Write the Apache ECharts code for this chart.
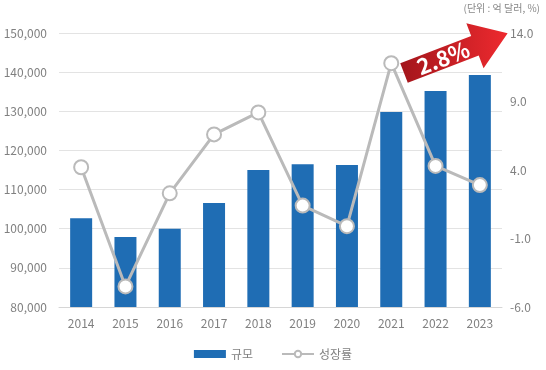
<!DOCTYPE html>
<html>
<head>
<meta charset="utf-8">
<script src="https://cdn.jsdelivr.net/npm/echarts@6/dist/echarts.min.js"></script>
<style>
html,body{margin:0;padding:0;background:#fff;}
#chart{width:546px;height:370px;}
</style>
</head>
<body>
<div id="chart"></div>
<script>
var years = ['2014','2015','2016','2017','2018','2019','2020','2021','2022','2023'];
var marketSize = [102700, 97900, 100000, 106600, 115000, 116500, 116300, 129800, 135200, 139300];
var growthRate = [4.2, -4.5, 2.3, 6.6, 8.2, 1.4, -0.1, 11.8, 4.3, 2.9];
var rightTicks = [-6, -1, 4, 9, 14];
var unitText = '(단위 : 억 달러, %)';
var arrowText = '2.8%';
var seriesNames = ['규모', '성장률'];

var font = '"Noto Sans CJK KR", "Noto Sans", sans-serif';
var chart = echarts.init(document.getElementById('chart'), null, {renderer: 'canvas'});

// decorative arrow geometry
var T = [404, 73], ang = 21 * Math.PI / 180;
var d = [Math.cos(ang), -Math.sin(ang)], n = [Math.sin(ang), Math.cos(ang)];
function P(u, v) { return [T[0] + u * d[0] + v * n[0], T[1] + u * d[1] + v * n[1]]; }
var bw = 10.5, hb = 76, hw = 24, L = 111;
var arrowPts = [P(0, -bw), P(hb, -bw), P(hb, -hw), P(L, 0), P(hb, hw), P(hb, bw), P(0, bw)];
var txtPos = P(42, 0);

chart.setOption({
  animation: false,
  textStyle: {fontFamily: font},
  grid: {left: 59, right: 44, top: 33, bottom: 63},
  legend: {
    bottom: 5,
    left: 'center',
    itemGap: 28,
    itemWidth: 32,
    itemHeight: 8,
    textStyle: {color: '#808080', fontSize: 12, fontFamily: font},
    data: [
      {name: seriesNames[0], icon: 'rect'},
      {name: seriesNames[1]}
    ]
  },
  xAxis: {
    type: 'category',
    data: years,
    axisLine: {onZero: false, lineStyle: {color: '#d6d6d6', width: 1}},
    axisTick: {show: false},
    axisLabel: {color: '#808080', fontSize: 12, margin: 10}
  },
  yAxis: [
    {
      type: 'value',
      min: 80000, max: 150000, interval: 10000,
      axisLine: {show: false},
      axisTick: {show: false},
      axisLabel: {
        color: '#808080', fontSize: 12, margin: 12,
        formatter: function (v) { return v.toLocaleString('en-US'); }
      },
      splitLine: {lineStyle: {color: '#e3e3e3', width: 1}}
    },
    {
      type: 'value',
      min: -6, max: 14,
      axisLine: {show: false},
      axisTick: {show: false},
      splitLine: {show: false},
      axisLabel: {
        color: '#808080', fontSize: 12, margin: 8,
        customValues: rightTicks,
        formatter: function (v) { return v.toFixed(1); }
      }
    }
  ],
  series: [
    {
      name: seriesNames[0],
      type: 'bar',
      data: marketSize,
      barWidth: 22,
      itemStyle: {color: '#1f6db4'},
      z: 2
    },
    {
      name: seriesNames[1],
      type: 'line',
      yAxisIndex: 1,
      data: growthRate,
      symbol: 'circle',
      symbolSize: 14,
      lineStyle: {color: '#bababa', width: 3},
      itemStyle: {color: '#ffffff', borderColor: '#bababa', borderWidth: 2},
      z: 3
    }
  ],
  graphic: [
    {
      type: 'text',
      right: 6,
      top: 3,
      style: {text: unitText, fill: '#888', fontSize: 10, fontFamily: font}
    },
    {
      type: 'polygon',
      z: 10,
      shape: {points: arrowPts},
      style: {
        fill: {
          type: 'linear', x: 0, y: 0, x2: 1, y2: 0,
          colorStops: [{offset: 0, color: '#a3151b'}, {offset: 1, color: '#ee2a2f'}]
        }
      }
    },
    {
      type: 'text',
      z: 11,
      x: txtPos[0], y: txtPos[1],
      rotation: ang,
      style: {
        text: arrowText, fill: '#fff', fontSize: 22, fontWeight: 'bold',
        fontFamily: font, align: 'center', verticalAlign: 'middle'
      }
    }
  ]
});
</script>
</body>
</html>
